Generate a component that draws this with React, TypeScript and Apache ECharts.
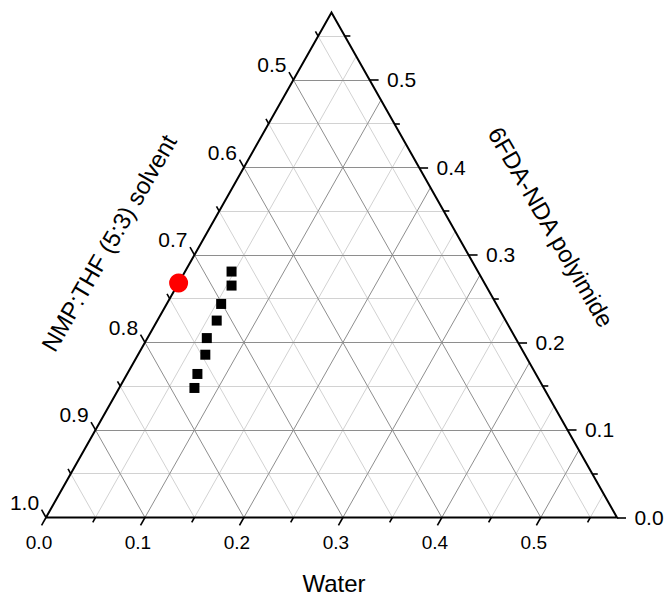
import React, { useEffect, useRef } from "react";
import * as echarts from "echarts";

// ---- data (ternary fractions) ----
const SCALE_MAX = 0.577; // extent of water / polyimide shown (solvent from 1-0.577 to 1)
const gridLevels = [0.05, 0.1, 0.15, 0.2, 0.25, 0.3, 0.35, 0.4, 0.45, 0.5, 0.55];
const tickLevels = [0, 0.05, 0.1, 0.15, 0.2, 0.25, 0.3, 0.35, 0.4, 0.45, 0.5, 0.55];
const waterTickLabels = ["0.0", "0.1", "0.2", "0.3", "0.4", "0.5"];
const waterTickValues = [0, 0.1, 0.2, 0.3, 0.4, 0.5];
const polyTickLabels = ["0.0", "0.1", "0.2", "0.3", "0.4", "0.5"];
const polyTickValues = [0, 0.1, 0.2, 0.3, 0.4, 0.5];
const solventTickLabels = ["1.0", "0.9", "0.8", "0.7", "0.6", "0.5"];
const solventTickValues = [1.0, 0.9, 0.8, 0.7, 0.6, 0.5];

// red circle: binary solvent/polymer point
const redWater = [0.0];
const redPoly = [0.268];
// black squares: cloud points
const sqWater = [0.047, 0.055, 0.055, 0.06, 0.06, 0.068, 0.071, 0.076];
const sqPoly = [0.281, 0.265, 0.244, 0.225, 0.205, 0.186, 0.164, 0.148];

// ---- layout ----
const GRID = { left: 46, top: 12.5, width: 571, height: 505 };
const SX = GRID.width / SCALE_MAX;
const SY = GRID.height / SCALE_MAX;
const FONT = 'Arial, "Liberation Sans", sans-serif';

const toXY = (w: number, p: number) => [w + p / 2, p];
const isMajor = (v: number) => Math.abs(v * 10 - Math.round(v * 10)) < 1e-6;

function buildOption() {
  const M = SCALE_MAX;
  const gridMajor: any[] = [];
  const gridMinor: any[] = [];
  gridLevels.forEach((v) => {
    const target = isMajor(v) ? gridMajor : gridMinor;
    target.push({ coords: [toXY(0, v), toXY(M - v, v)] });
    target.push({ coords: [toXY(v, 0), toXY(v, M - v)] });
    target.push({ coords: [toXY(0, v), toXY(v, 0)] });
  });

  const ticks: any[] = [];
  const diagLen = Math.sqrt((0.5 * SX) ** 2 + SY ** 2);
  tickLevels.forEach((v) => {
    const L = isMajor(v) ? 9 : 5.5;
    const kd = L / diagLen;
    const b = toXY(v, 0);
    ticks.push({ coords: [b, [b[0] - 0.5 * kd, b[1] - kd]] });
    const l = toXY(0, v);
    ticks.push({ coords: [l, [l[0] - 0.5 * kd, l[1] + kd]] });
    const r = toXY(M - v, v);
    ticks.push({ coords: [r, [r[0] + L / SX, r[1]]] });
  });

  const border = [{ coords: [toXY(0, 0), toXY(M, 0), toXY(0, M), toXY(0, 0)] }];

  const labelSeries = (data: any[], offset: number[], fontSize: number) => ({
    type: "scatter",
    coordinateSystem: "cartesian2d",
    symbolSize: 1,
    itemStyle: { color: "transparent", opacity: 1 },
    silent: true,
    clip: false,
    z: 5,
    label: {
      show: true,
      position: "inside",
      offset,
      formatter: "{b}",
      color: "#000",
      opacity: 1,
      fontSize,
      fontFamily: FONT,
      textBorderWidth: 0,
    },
    data,
  });

  return {
    animation: false,
    backgroundColor: "#fff",
    grid: { ...GRID, containLabel: false },
    xAxis: { type: "value", min: 0, max: M, show: false },
    yAxis: { type: "value", min: 0, max: M, show: false },
    series: [
      {
        type: "lines",
        coordinateSystem: "cartesian2d",
        silent: true,
        clip: false,
        z: 1,
        lineStyle: { color: "#d2d2d2", width: 1, opacity: 1 },
        data: gridMinor,
      },
      {
        type: "lines",
        coordinateSystem: "cartesian2d",
        silent: true,
        clip: false,
        z: 2,
        lineStyle: { color: "#8e8e8e", width: 1, opacity: 1 },
        data: gridMajor,
      },
      {
        type: "lines",
        coordinateSystem: "cartesian2d",
        silent: true,
        clip: false,
        z: 3,
        lineStyle: { color: "#000", width: 1.6, opacity: 1 },
        data: ticks,
      },
      {
        type: "lines",
        coordinateSystem: "cartesian2d",
        polyline: true,
        silent: true,
        clip: false,
        z: 4,
        lineStyle: { color: "#000", width: 2, opacity: 1, join: "miter" },
        data: border,
      },
      labelSeries(
        waterTickValues.map((w, i) => ({ name: waterTickLabels[i], value: toXY(w, 0) })),
        [-7, 25],
        19
      ),
      labelSeries(
        polyTickValues.map((p, i) => ({ name: polyTickLabels[i], value: toXY(M - p, p) })),
        [32, 0],
        21
      ),
      labelSeries(
        solventTickValues.map((s, i) => ({ name: solventTickLabels[i], value: toXY(0, 1 - s) })),
        [-21.5, -15],
        21
      ),
      {
        type: "scatter",
        name: "squares",
        symbol: "rect",
        symbolSize: 10,
        clip: false,
        z: 6,
        itemStyle: { color: "#000", opacity: 1 },
        data: sqWater.map((w, i) => toXY(w, sqPoly[i])),
      },
      {
        type: "scatter",
        name: "binary",
        symbol: "circle",
        symbolSize: 19,
        clip: false,
        z: 7,
        itemStyle: { color: "#ff0000", opacity: 1 },
        data: redWater.map((w, i) => toXY(w, redPoly[i])),
      },
    ],
    graphic: [
      {
        type: "text",
        x: 334,
        y: 583,
        style: {
          text: "Water",
          fontSize: 24,
          fontFamily: FONT,
          fill: "#000",
          textAlign: "center",
          textVerticalAlign: "middle",
        },
      },
      {
        type: "text",
        x: 109,
        y: 243,
        rotation: Math.PI / 3,
        style: {
          text: "NMP:THF (5:3) solvent",
          fontSize: 24,
          fontFamily: FONT,
          fill: "#000",
          textAlign: "center",
          textVerticalAlign: "middle",
        },
      },
      {
        type: "text",
        x: 551,
        y: 227,
        rotation: -Math.PI / 3,
        style: {
          text: "6FDA-NDA polyimide",
          fontSize: 24,
          fontFamily: FONT,
          fill: "#000",
          textAlign: "center",
          textVerticalAlign: "middle",
        },
      },
    ],
  };
}

export default function App() {
  const ref = useRef<HTMLDivElement>(null);
  useEffect(() => {
    if (!ref.current) return;
    const chart = echarts.init(ref.current, undefined, { renderer: "svg" });
    chart.setOption(buildOption() as any);
    return () => chart.dispose();
  }, []);
  return (
    <div
      ref={ref}
      style={{ position: "absolute", left: 0, top: 0, width: 668, height: 596 }}
    />
  );
}
